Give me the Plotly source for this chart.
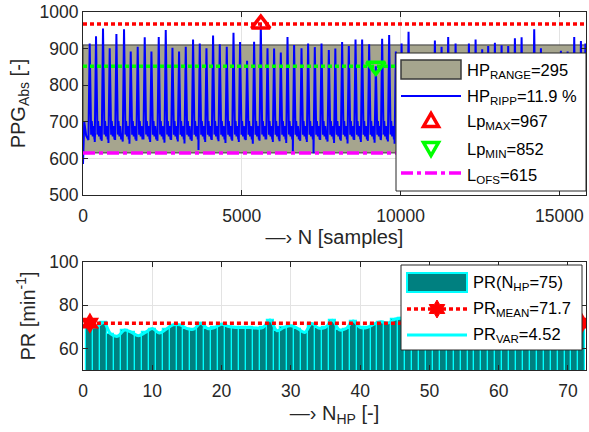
import math
import plotly.graph_objects as go

# ---------------- data: top panel (PPG signal) ----------------
N_SAMPLES = 15840
peak_samples = [211, 410, 630, 841, 1052, 1292, 1503, 1723, 1944, 2155,
                2385, 2606, 2817, 3025, 3236, 3466, 3677, 3888, 4096, 4307,
                4527, 4739, 4946, 5167, 5388, 5599, 5810, 6018, 6229, 6440,
                6648, 6881, 7089, 7300, 7511, 7741, 7946, 8160, 8371, 8582,
                8790, 9011, 9222, 9420, 9641, 9852, 10032, 10252, 10451, 10662,
                10870, 11081, 11292, 11500, 11733, 11941, 12152, 12363, 12571, 12760,
                12971, 13182, 13390, 13601, 13812, 14020, 14209, 14420, 14625, 14830,
                15050, 15261, 15469, 15680, 15822]
peak_values = [914, 934, 955, 901, 940, 953, 892, 905, 931, 892,
               932, 951, 902, 892, 905, 925, 914, 901, 936, 912,
               905, 943, 918, 867, 919, 967, 901, 900, 889, 932,
               910, 901, 914, 904, 914, 896, 900, 918, 907, 925,
               925, 912, 852, 927, 937, 892, 914, 946, 870, 880,
               885, 922, 905, 932, 914, 880, 914, 925, 898, 907,
               916, 909, 907, 928, 931, 880, 953, 901, 875, 875,
               894, 892, 932, 921, 914]
trough_values = [650, 645, 648, 642, 650, 646, 640, 648, 652, 645,
                 648, 643, 650, 646, 641, 648, 623, 645, 650, 647,
                 642, 648, 645, 650, 640, 648, 652, 645, 647, 642,
                 618, 648, 645, 614, 650, 646, 642, 648, 641, 650,
                 645, 648, 643, 650, 646, 640, 648, 652, 645, 647,
                 642, 648, 645, 650, 646, 641, 648, 645, 650, 647,
                 642, 648, 645, 650, 640, 648, 652, 645, 647, 642,
                 648, 645, 650, 646, 648]
# pulse shape after each peak: (sample offset, level)
pulse_tail = [(30, 695), (45, 665), (65, 702), (95, 660), (120, 688), (150, 652), (168, 668)]
start_segment = [(0, 585), (40, 700), (100, 662)]

hp_low, hp_high = 615, 910
lp_max_x, lp_max = 5599, 967
lp_min_x, lp_min = 9222, 852
l_ofs = 615

x_ticks = [0, 5000, 10000, 15000]
y_ticks = [500, 600, 700, 800, 900, 1000]

# ---------------- data: bottom panel (pulse rate) ----------------
pr_values = [70.0, 70.1, 72.0, 66.7, 65.6, 68.5, 67.4, 65.9, 67.4, 69.2,
             67.1, 68.9, 70.9, 70.9, 69.2, 68.9, 71.7, 69.2, 69.7, 71.2,
             70.1, 69.7, 69.7, 69.7, 69.4, 69.7, 73.2, 68.2, 69.7, 70.5,
             69.2, 67.4, 71.5, 69.4, 69.7, 73.0, 68.6, 69.2, 72.7, 69.7,
             69.7, 71.2, 72.3, 71.7, 73.5, 74.0, 73.2, 74.5, 73.8, 74.8,
             73.6, 75.0, 74.2, 73.4, 74.6, 75.2, 73.9, 74.4, 73.1, 74.7,
             75.3, 74.0, 73.5, 74.8, 73.9, 74.2, 73.3, 74.6, 73.8, 73.2,
             72.5, 72.7]
pr_index = list(range(1, len(pr_values) + 1))
pr_mean = 71.7
x2_ticks = [0, 10, 20, 30, 40, 50, 60, 70]
y2_ticks = [60, 80, 100]

legend1_labels = ["HP<sub>RANGE</sub>=295", "HP<sub>RIPP</sub>=11.9 %", "Lp<sub>MAX</sub>=967",
                  "Lp<sub>MIN</sub>=852", "L<sub>OFS</sub>=615"]
legend2_labels = ["PR(N<sub>HP</sub>=75)", "PR<sub>MEAN</sub>=71.7", "PR<sub>VAR</sub>=4.52"]

# ---------------- build PPG polyline ----------------
sx, sy = [], []
for o, v in start_segment:
    sx.append(o); sy.append(v)
for p, pv, tv in zip(peak_samples, peak_values, trough_values):
    sx.append(p - 40); sy.append(tv)
    sx.append(p); sy.append(pv)
    for o, v in pulse_tail:
        if p + o <= N_SAMPLES:
            sx.append(p + o); sy.append(v)

FONT = "Liberation Sans, Arial, sans-serif"
TXT = "#262626"
BAND = "#a6a58e"

# figure geometry (pixels)
W, H = 589, 432
ML, MR, MT, MB = 83, 3, 12, 62
PW, PH = W - ML - MR, H - MT - MB


def px(x):
    return (x - ML) / PW


def py(y):
    return (H - MB - y) / PH


fig = go.Figure()

fig.add_trace(go.Scatter(
    x=[0, N_SAMPLES, N_SAMPLES, 0, 0], y=[hp_low, hp_low, hp_high, hp_high, hp_low],
    fill="toself", fillcolor=BAND, mode="lines", line=dict(color="#3a3a3a", width=1),
    name="HP range", xaxis="x", yaxis="y"))
fig.add_trace(go.Scatter(
    x=sx, y=sy, mode="lines", line=dict(color="#0000ff", width=2),
    name="HP ripple", xaxis="x", yaxis="y"))
fig.add_trace(go.Scatter(
    x=[0, N_SAMPLES], y=[lp_max, lp_max], mode="lines",
    line=dict(color="#ff0000", width=3.5, dash="4px,3px"), hoverinfo="skip", xaxis="x", yaxis="y"))
fig.add_trace(go.Scatter(
    x=[0, N_SAMPLES], y=[lp_min, lp_min], mode="lines",
    line=dict(color="#00ff00", width=3.5, dash="4px,3px"), hoverinfo="skip", xaxis="x", yaxis="y"))
fig.add_trace(go.Scatter(
    x=[0, N_SAMPLES], y=[l_ofs, l_ofs], mode="lines",
    line=dict(color="#ff00ff", width=3.5, dash="12px,4px,4px,4px"), xaxis="x", yaxis="y"))
fig.add_trace(go.Scatter(
    x=[lp_max_x], y=[lp_max], mode="markers",
    marker=dict(symbol="triangle-up-open", size=16, color="#ff0000", line=dict(width=3.5, color="#ff0000")),
    xaxis="x", yaxis="y"))
fig.add_trace(go.Scatter(
    x=[lp_min_x], y=[lp_min], mode="markers",
    marker=dict(symbol="triangle-down-open", size=16, color="#00ff00", line=dict(width=3.5, color="#00ff00")),
    xaxis="x", yaxis="y"))

fig.add_trace(go.Bar(
    x=pr_index, y=pr_values, width=1, marker=dict(color="#008080", line=dict(color="#00ffff", width=1.2)),
    xaxis="x2", yaxis="y2"))
fig.add_trace(go.Scatter(
    x=pr_index, y=pr_values, mode="lines", line=dict(color="#00ffff", width=3, shape="spline"),
    xaxis="x2", yaxis="y2"))
fig.add_trace(go.Scatter(
    x=[pr_index[0], pr_index[-1]], y=[pr_mean, pr_mean], mode="lines+markers",
    line=dict(color="#ff0000", width=3.5, dash="4px,3px"),
    marker=dict(symbol="hexagram", size=16, color="#ff0000"),
    xaxis="x2", yaxis="y2"))

# ---------------- manual legends (shapes + text) ----------------
shapes, annos = [], []


def box(x0, y0, x1, y1, fill, line_color, line_width):
    shapes.append(dict(type="rect", xref="paper", yref="paper", x0=px(x0), x1=px(x1), y0=py(y1), y1=py(y0),
                       fillcolor=fill, line=dict(color=line_color, width=line_width), layer="above"))


def hline(x0, x1, y, color, width, dash="solid"):
    shapes.append(dict(type="line", xref="paper", yref="paper", x0=px(x0), x1=px(x1), y0=py(y), y1=py(y),
                       line=dict(color=color, width=width, dash=dash), layer="above"))


def glyph(x, y, path, fill, color, width):
    shapes.append(dict(type="path", xref="paper", yref="paper", xsizemode="pixel", ysizemode="pixel",
                       xanchor=px(x), yanchor=py(y), path=path, fillcolor=fill,
                       line=dict(color=color, width=width), layer="above"))


def label(x, y, text):
    annos.append(dict(xref="paper", yref="paper", x=px(x), y=py(y), text=text, showarrow=False,
                      xanchor="left", yanchor="middle", font=dict(family=FONT, size=16.5, color="#000000")))


tri_up = "M-7.5,-5.5 L7.5,-5.5 L0,7.5 Z"
tri_dn = "M-7.5,5.5 L7.5,5.5 L0,-7.5 Z"
pts = []
for k in range(12):
    r = 9 if k % 2 == 0 else 5.2
    a = math.pi / 2 + k * math.pi / 6
    pts.append(f"{r * math.cos(a):.2f},{r * math.sin(a):.2f}")
hexa = "M" + " L".join(pts) + " Z"

# legend 1
box(396, 53, 586, 191, "white", TXT, 1)
box(401, 60, 461, 79, BAND, "#3a3a3a", 1.5)
hline(401, 461, 96, "#0000ff", 2)
glyph(431, 121, tri_up, "white", "#ff0000", 3.5)
glyph(431, 148, tri_dn, "white", "#00ff00", 3.5)
hline(401, 461, 173, "#ff00ff", 3.5, "12px,4px,4px,4px")
for lab, yy in zip(legend1_labels, [71, 97, 122, 150, 176]):
    label(465, yy, lab)

# legend 2
box(401, 265, 582, 350, "white", TXT, 1)
box(407, 273, 467, 292, "#008080", "#00ffff", 2)
hline(407, 467, 309, "#ff0000", 3.5, "4px,3px")
glyph(437, 309, hexa, "#ff0000", "#ff0000", 1)
hline(407, 467, 335, "#00ffff", 3)
for lab, yy in zip(legend2_labels, [283, 309, 335]):
    label(471, yy, lab)

axis_common = dict(showline=True, mirror="ticks", linecolor=TXT, linewidth=1,
                   ticks="inside", ticklen=5, tickcolor=TXT, automargin=False,
                   showgrid=True, gridcolor="#e3e3e3", gridwidth=1, zeroline=False,
                   tickfont=dict(family=FONT, size=17.5, color=TXT))
title_font = dict(family=FONT, size=20, color=TXT)

fig.update_layout(
    width=W, height=H,
    margin=dict(l=ML, r=MR, t=MT, b=MB),
    paper_bgcolor="white", plot_bgcolor="white",
    font=dict(family=FONT, color="#000000"),
    bargap=0, showlegend=False, hovermode=False,
    xaxis=dict(axis_common, domain=[0, 1], range=[0, N_SAMPLES], tickvals=x_ticks,
               ticktext=[str(v) for v in x_ticks], ticklabelstandoff=5,
               anchor="y", title=dict(text="—› N [samples]", font=title_font, standoff=3)),
    yaxis=dict(axis_common, domain=[py(195), 1], range=[500, 1000], tickvals=y_ticks,
               anchor="x", title=dict(text="PPG<sub>Abs</sub> [-]", font=title_font, standoff=8)),
    xaxis2=dict(axis_common, domain=[0, 1], range=[0, 72.6], tickvals=x2_ticks, ticklabelstandoff=5,
                anchor="y2", title=dict(text="—› N<sub>HP</sub> [-]", font=title_font, standoff=5)),
    yaxis2=dict(axis_common, domain=[0, py(262)], range=[50, 100], tickvals=y2_ticks,
                anchor="x2", title=dict(text="PR [min<sup>-1</sup>]", font=title_font, standoff=8)),
    shapes=shapes, annotations=annos,
)

fig.write_html("out.html", config={"displayModeBar": False},
               post_script="document.body.style.margin='0';document.body.style.overflow='hidden';")
